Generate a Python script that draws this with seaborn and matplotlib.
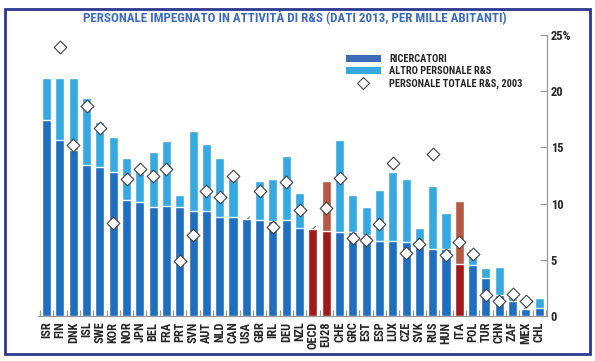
import numpy as np
import pandas as pd
import matplotlib
matplotlib.use("Agg")
import matplotlib.pyplot as plt
from matplotlib import font_manager
from matplotlib.patches import Patch, Rectangle
from matplotlib.lines import Line2D
import seaborn as sns

sns.set_theme(style="white")

# font stretta se presente, altrimenti Roboto
installed = {f.name for f in font_manager.fontManager.ttflist}
NARROW = [f for f in ["Liberation Sans Narrow", "DejaVu Sans Condensed",
                      "Roboto Condensed", "Open Sans Condensed", "Roboto"]
          if f in installed]
plt.rcParams["font.family"] = NARROW + ["DejaVu Sans"]
plt.rcParams["font.weight"] = "bold"
plt.rcParams["hatch.linewidth"] = 0.8

nan = np.nan

countries = ["ISR", "FIN", "DNK", "ISL", "SWE", "KOR", "NOR", "JPN", "BEL", "FRA",
             "PRT", "SVN", "AUT", "NLD", "CAN", "USA", "GBR", "IRL", "DEU", "NZL",
             "OECD", "EU28", "CHE", "GRC", "EST", "ESP", "LUX", "CZE", "SVK", "RUS",
             "HUN", "ITA", "POL", "TUR", "CHN", "ZAF", "MEX", "CHL"]
# ricercatori per mille abitanti, 2013
researchers = [17.4, 15.7, 14.75, 13.4, 13.3, 12.8, 10.3, 10.1, 9.7, 9.8,
               9.7, 9.3, 9.3, 8.8, 8.8, 8.6, 8.5, 8.45, 8.5, 7.8,
               7.7, 7.6, 7.5, 7.45, 7.25, 6.7, 6.7, 6.6, 6.5, 6.0,
               6.0, 4.6, 4.5, 3.35, 1.85, 1.3, 0.6, 0.75]
# personale totale R&S 2013 (nan = altro personale non disponibile)
total_2013 = [21.2, 21.2, 21.2, 19.4, 17.3, 15.9, 14.1, 12.9, 14.6, 15.55,
              10.75, 16.5, 15.3, 14.1, 12.2, nan, 12.05, 12.15, 14.25, 10.9,
              nan, 12.05, 15.7, 10.75, 9.7, 11.2, 12.8, 12.15, 7.8, 11.6,
              9.2, 10.25, 6.0, 4.3, 4.4, 1.95, nan, 1.57]
total_2003 = [nan, 23.9, 15.25, 18.7, 16.7, 8.3, 12.2, 13.1, 12.5, 13.1,
              4.9, 7.2, 11.1, 10.6, 12.5, nan, 11.1, 7.9, 11.9, 9.4,
              nan, 9.6, 12.3, 6.9, 6.8, 8.2, 13.6, 5.6, 6.4, 14.4,
              5.4, 6.55, 5.55, 1.85, 1.33, 2.0, 1.36, nan]
highlight = ["OECD", "EU28", "ITA"]

df = pd.DataFrame({"country": countries, "researchers": researchers,
                   "total": total_2013, "y2003": total_2003})
df["group"] = np.where(df["country"].isin(highlight), "hl", "base")
df["top"] = df["total"].fillna(df["researchers"])
df["pos"] = np.arange(len(df))

DARK_BLUE = "#1f6ebf"
LIGHT_BLUE = "#36a9e1"
DARK_RED = "#a2191b"
LIGHT_RED = "#b35944"
TITLE_BLUE = "#3c6cc0"
GREY = "#9a9a9a"

fig = plt.figure(figsize=(5.95, 3.61), dpi=100)
ax = fig.add_axes([38 / 595, 45 / 361, 508.5 / 595, 281 / 361])

sns.barplot(data=df, x="country", y="top", hue="group",
            palette={"base": LIGHT_BLUE, "hl": LIGHT_RED}, dodge=False,
            width=0.68, saturation=1, legend=False, ax=ax, zorder=2)
sns.barplot(data=df, x="country", y="researchers", hue="group",
            palette={"base": DARK_BLUE, "hl": DARK_RED}, dodge=False,
            width=0.68, saturation=1, legend=False, ax=ax, zorder=3)

# segno di dato parziale
miss = df[df["total"].isna()]
ax.bar(miss["pos"], 0.3, bottom=miss["researchers"], width=0.5, fill=False,
       hatch="////", edgecolor="#777777", linewidth=0, zorder=4)

sns.scatterplot(x=df["pos"], y=df["y2003"], marker="D", s=42, color="white",
                edgecolor="#444444", linewidth=0.8, ax=ax, zorder=5)

ax.set_xlim(-0.65, len(df) - 0.45)
ax.set_ylim(0, 25)
ax.set_xlabel("")
ax.set_ylabel("")

for s in ["left", "top"]:
    ax.spines[s].set_visible(False)
for s in ["right", "bottom"]:
    ax.spines[s].set_color(GREY)
    ax.spines[s].set_linewidth(0.9)

ax.yaxis.tick_right()
ax.set_yticks([0, 5, 10, 15, 20, 25])
ax.set_yticklabels(["0", "5", "10", "15", "20", "25%"])
ax.tick_params(axis="y", direction="in", length=5, width=0.9, color=GREY,
               labelsize=9, pad=3, right=True, left=False)

ax.set_xticks(df["pos"])
ax.set_xticklabels(countries, rotation=90)
ax.set_xticks(np.arange(-0.5, len(df)), minor=True)
ax.tick_params(axis="x", which="major", length=0, labelsize=8.8, pad=4)
ax.tick_params(axis="x", which="minor", direction="in", length=4, width=0.9,
               color=GREY, bottom=True)
for lab in ax.get_xticklabels() + ax.get_yticklabels():
    lab.set_fontweight("bold")

handles = [Patch(facecolor="#3f6cb8", edgecolor="none"),
           Patch(facecolor=LIGHT_BLUE, edgecolor="none"),
           Line2D([], [], marker="D", linestyle="none", markersize=6.5,
                  markerfacecolor="white", markeredgecolor="#444444",
                  markeredgewidth=0.8)]
leg = fig.legend(handles, ["RICERCATORI", "ALTRO PERSONALE R&S",
                           "PERSONALE TOTALE R&S, 2003"],
                 loc="upper left", bbox_to_anchor=(341 / 595, 1 - 49 / 361),
                 frameon=False, fontsize=7.5, handlelength=3.3, handleheight=0.75,
                 labelspacing=0.2, handletextpad=0.8, borderpad=0)
for t in leg.get_texts():
    t.set_fontweight("bold")

fig.text(0.496, 0.95, "PERSONALE IMPEGNATO IN ATTIVITÀ DI R&S (DATI 2013, PER MILLE ABITANTI)",
         ha="center", va="center", color=TITLE_BLUE, fontsize=9.4, fontweight="bold")

fig.patches.append(Rectangle((5 / 595, 7 / 361), 585 / 595, 345 / 361,
                             transform=fig.transFigure, fill=False,
                             edgecolor="#2b3990", linewidth=2))

fig.savefig("out.png", dpi=100)
